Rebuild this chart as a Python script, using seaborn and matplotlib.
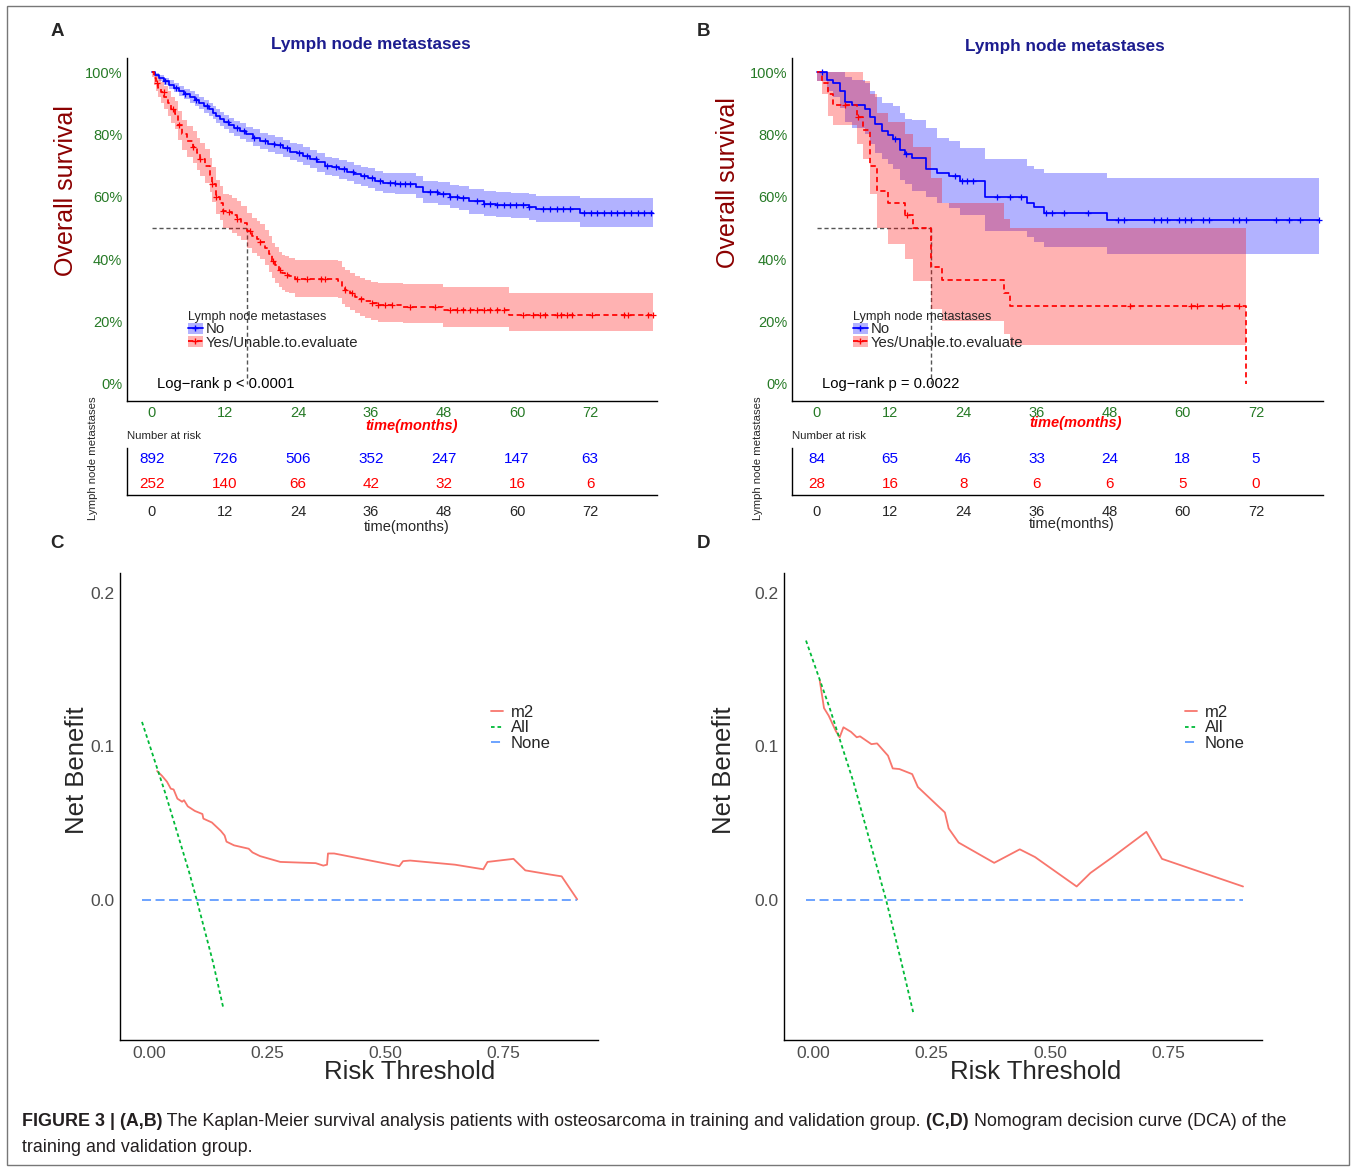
import numpy as np
import pandas as pd
import matplotlib
matplotlib.use("Agg")
import matplotlib.pyplot as plt
from matplotlib.lines import Line2D
from matplotlib.patches import Patch, Rectangle
from matplotlib.transforms import ScaledTranslation
import seaborn as sns

# ---------------- data ----------------
# panel A (training) - Kaplan-Meier, group "No"
a_no_t = [0, 0.5, 1.2, 2.0, 2.8, 3.6, 4.5, 5.3, 6.2, 7.0, 7.8, 8.6, 9.4, 10.1, 10.5, 11.2, 11.8,
          12.6, 13.5, 14.4, 15.5, 16.6, 17.8, 19.0, 20.3, 21.5, 22.7, 23.8, 24.9, 26.0, 27.2, 28.4,
          29.6, 30.8, 32.0, 33.2, 34.3, 35.5, 36.7, 38.0, 40.0, 43.4, 44.5, 47.0, 48.9, 50.5, 52.1,
          54.5, 56.5, 59.0, 62.0, 63.1, 70.3, 82.4]
a_no_s = [1.0, 0.99, 0.98, 0.97, 0.96, 0.95, 0.94, 0.93, 0.92, 0.91, 0.90, 0.89, 0.88, 0.87, 0.86, 0.85,
          0.84, 0.83, 0.82, 0.81, 0.80, 0.79, 0.78, 0.77, 0.765, 0.755, 0.745, 0.74, 0.73, 0.72, 0.71,
          0.70, 0.695, 0.688, 0.68, 0.672, 0.665, 0.66, 0.65, 0.645, 0.642, 0.63, 0.615, 0.61, 0.60,
          0.595, 0.585, 0.578, 0.574, 0.572, 0.568, 0.561, 0.548, 0.548]
a_no_hi = [1.0, 0.997, 0.99, 0.982, 0.974, 0.965, 0.956, 0.947, 0.938, 0.929, 0.92, 0.911, 0.901,
           0.892, 0.882, 0.873, 0.863, 0.854, 0.844, 0.835, 0.825, 0.816, 0.806, 0.797, 0.792, 0.782,
           0.773, 0.768, 0.758, 0.749, 0.739, 0.729, 0.725, 0.718, 0.71, 0.703, 0.696, 0.691, 0.682,
           0.677, 0.676, 0.665, 0.651, 0.646, 0.637, 0.633, 0.624, 0.617, 0.614, 0.613, 0.61, 0.604,
           0.597, 0.597]
a_no_lo = [1.0, 0.983, 0.97, 0.958, 0.946, 0.935, 0.924, 0.913, 0.902, 0.891, 0.88, 0.869, 0.859,
           0.848, 0.838, 0.827, 0.817, 0.806, 0.796, 0.785, 0.775, 0.764, 0.754, 0.743, 0.738, 0.728,
           0.717, 0.712, 0.702, 0.691, 0.681, 0.671, 0.665, 0.658, 0.65, 0.641, 0.634, 0.629, 0.618,
           0.613, 0.608, 0.595, 0.579, 0.574, 0.563, 0.557, 0.546, 0.539, 0.534, 0.531, 0.526, 0.518,
           0.503, 0.503]
a_no_cens = [2.2, 4.0, 5.5, 7.2, 9.0, 12.5, 14.0, 15.2, 16.8, 18.5, 20.0, 21.0, 22.2, 24.2, 25.5, 27.0,
             28.8, 30.2, 31.5, 33.0, 34.8, 36.2, 37.5, 39.1, 39.9, 40.7, 41.6, 42.4, 45.7, 46.8, 47.9,
             49.0, 50.1, 51.2, 53.4, 54.5, 55.6, 56.7, 57.8, 58.9, 59.9, 61.0, 62.0, 64.3, 65.4, 66.5,
             67.6, 68.7, 71.0, 72.1, 73.2, 74.3, 75.4, 76.5, 77.6, 78.7, 79.8, 80.9, 82.0]

# panel A, group "Yes/Unable.to.evaluate"
a_yes_t = [0, 0.3, 0.6, 1.0, 1.5, 2.0, 2.6, 3.2, 3.8, 4.3, 4.9, 5.8, 6.8, 7.4, 7.9, 8.7, 9.5, 9.8, 10.6,
           11.2, 11.7, 12.6, 13.1, 14.0, 14.7, 15.6, 16.4, 17.2, 17.8, 18.6, 19.2, 19.7, 20.3, 20.8,
           21.4, 21.9, 22.6, 23.5, 30.6, 31.2, 31.7, 32.6, 33.4, 34.2, 35.0, 36.0, 37.2, 41.3, 47.9,
           58.6, 82.4]
a_yes_s = [1.0, 0.98, 0.965, 0.95, 0.935, 0.92, 0.90, 0.88, 0.865, 0.83, 0.80, 0.78, 0.76, 0.74, 0.72,
           0.70, 0.67, 0.64, 0.60, 0.58, 0.555, 0.55, 0.54, 0.53, 0.515, 0.49, 0.475, 0.465, 0.455,
           0.435, 0.415, 0.395, 0.38, 0.365, 0.355, 0.35, 0.345, 0.335, 0.33, 0.31, 0.30, 0.29, 0.28,
           0.272, 0.265, 0.258, 0.253, 0.248, 0.237, 0.222, 0.222]
a_yes_hi = [1.0, 1.0, 0.99, 0.98, 0.968, 0.955, 0.938, 0.92, 0.907, 0.875, 0.847, 0.828, 0.81, 0.79,
            0.771, 0.752, 0.723, 0.694, 0.655, 0.635, 0.61, 0.605, 0.596, 0.586, 0.571, 0.547, 0.532,
            0.522, 0.513, 0.493, 0.473, 0.453, 0.438, 0.424, 0.414, 0.41, 0.405, 0.396, 0.393, 0.375,
            0.366, 0.356, 0.347, 0.34, 0.334, 0.328, 0.325, 0.32, 0.31, 0.29, 0.29]
a_yes_lo = [0.985, 0.96, 0.94, 0.92, 0.9, 0.882, 0.86, 0.836, 0.818, 0.781, 0.75, 0.728, 0.707, 0.686,
            0.665, 0.645, 0.614, 0.584, 0.545, 0.525, 0.5, 0.495, 0.485, 0.475, 0.46, 0.435, 0.42,
            0.41, 0.4, 0.38, 0.36, 0.34, 0.325, 0.31, 0.3, 0.295, 0.29, 0.28, 0.275, 0.255, 0.245,
            0.236, 0.226, 0.218, 0.211, 0.204, 0.199, 0.194, 0.183, 0.17, 0.17]
a_yes_cens = [0.8, 1.9, 3.4, 4.5, 6.8, 7.9, 9.8, 10.6, 11.7, 12.6, 14.0, 16.1, 17.8, 19.9, 21.0, 22.2,
              23.9, 25.5, 27.7, 28.5, 31.7, 32.8, 34.4, 36.1, 37.2, 38.3, 39.4, 42.4, 46.5, 49.0,
              50.1, 51.2, 52.3, 53.4, 54.5, 55.6, 56.7, 57.8, 61.0, 62.7, 63.8, 64.6, 66.5, 67.3,
              68.2, 69.0, 72.3, 77.5, 78.3, 81.6, 82.4]

# panel B (validation), group "No"
b_no_t = [0, 1.6, 2.7, 3.8, 4.6, 5.7, 7.9, 8.7, 9.5, 10.6, 11.7, 12.5, 13.6, 14.5, 15.6, 17.8, 19.7,
          21.6, 23.5, 27.6, 34.5, 35.6, 37.2, 47.5, 82.4]
b_no_s = [1.0, 0.976, 0.964, 0.94, 0.905, 0.893, 0.881, 0.857, 0.833, 0.81, 0.798, 0.786, 0.75, 0.738,
          0.725, 0.69, 0.677, 0.665, 0.652, 0.60, 0.58, 0.566, 0.549, 0.527, 0.527]
b_no_hi = [1.0, 1.0, 1.0, 1.0, 0.985, 0.975, 0.965, 0.94, 0.92, 0.90, 0.90, 0.89, 0.87, 0.85, 0.845,
           0.82, 0.79, 0.78, 0.755, 0.72, 0.70, 0.69, 0.675, 0.66, 0.66]
b_no_lo = [0.97, 0.94, 0.92, 0.885, 0.84, 0.82, 0.80, 0.77, 0.74, 0.72, 0.705, 0.69, 0.655, 0.64, 0.62,
           0.60, 0.58, 0.565, 0.54, 0.49, 0.47, 0.455, 0.44, 0.415, 0.415]
b_no_cens = [0.8, 12.8, 14.6, 22.6, 23.8, 24.6, 25.6, 29.5, 31.6, 33.5, 37.5, 38.6, 40.5, 44.4, 49.4,
             50.4, 55.3, 56.4, 57.4, 59.4, 60.4, 61.3, 63.3, 64.3, 68.3, 69.3, 70.3, 75.3, 77.4, 79.3,
             82.3]

# panel B, group "Yes/Unable.to.evaluate"
b_yes_t = [0, 0.8, 1.8, 2.7, 6.6, 7.6, 8.7, 9.8, 11.7, 14.5, 15.7, 18.7, 20.5, 30.6, 31.7, 70.3]
b_yes_s = [1.0, 0.964, 0.929, 0.893, 0.855, 0.815, 0.70, 0.62, 0.58, 0.54, 0.50, 0.375, 0.333, 0.29,
           0.25, 0.0]
b_yes_hi = [1.0, 1.0, 1.0, 1.0, 1.0, 0.97, 0.93, 0.87, 0.84, 0.80, 0.76, 0.66, 0.58, 0.53, 0.50, 0.50]
b_yes_lo = [0.97, 0.93, 0.86, 0.83, 0.77, 0.72, 0.61, 0.50, 0.45, 0.40, 0.33, 0.24, 0.20, 0.16, 0.125,
            0.125]
b_yes_cens = [4.6, 6.7, 14.7, 51.4, 61.3, 62.3, 66.4, 69.3]

# numbers at risk
risk_times = [0, 12, 24, 36, 48, 60, 72]
a_risk_no = [892, 726, 506, 352, 247, 147, 63]
a_risk_yes = [252, 140, 66, 42, 32, 16, 6]
b_risk_no = [84, 65, 46, 33, 24, 18, 5]
b_risk_yes = [28, 16, 8, 6, 6, 5, 0]

# decision curves
c_thr = [0.032, 0.042, 0.053, 0.061, 0.067, 0.075, 0.085, 0.089, 0.097, 0.112, 0.128, 0.130, 0.148,
         0.167, 0.175, 0.179, 0.195, 0.226, 0.234, 0.250, 0.293, 0.368, 0.384, 0.392, 0.394, 0.407,
         0.545, 0.553, 0.568, 0.663, 0.723, 0.732, 0.787, 0.812, 0.866, 0.889, 0.922]
c_m2 = [0.084, 0.081, 0.077, 0.0725, 0.072, 0.066, 0.064, 0.065, 0.061, 0.058, 0.056, 0.053, 0.0505,
        0.045, 0.042, 0.038, 0.0356, 0.0334, 0.031, 0.0286, 0.0248, 0.024, 0.0224, 0.023, 0.0303,
        0.0303, 0.022, 0.0253, 0.0257, 0.023, 0.020, 0.0248, 0.0268, 0.0193, 0.0165, 0.0154, 0.0004]
c_all_thr = [0.0, 0.05, 0.10, 0.116, 0.15, 0.172]
c_all = [0.116, 0.069, 0.018, 0.0, -0.040, -0.070]
c_none_thr = [0.0, 0.922]
c_none = [0.0, 0.0]

d_thr = [0.029, 0.038, 0.048, 0.063, 0.071, 0.079, 0.095, 0.107, 0.114, 0.138, 0.150, 0.173, 0.183,
         0.197, 0.224, 0.236, 0.293, 0.301, 0.322, 0.397, 0.451, 0.483, 0.571, 0.600, 0.647, 0.718,
         0.751, 0.922]
d_m2 = [0.143, 0.125, 0.120, 0.110, 0.106, 0.1125, 0.1095, 0.106, 0.1066, 0.1015, 0.102, 0.094, 0.0857,
        0.0853, 0.082, 0.0736, 0.057, 0.0466, 0.0374, 0.0242, 0.033, 0.028, 0.0088, 0.0176, 0.028,
        0.0444, 0.0268, 0.0088]
d_all_thr = [0.0, 0.05, 0.10, 0.169, 0.20, 0.226]
d_all = [0.169, 0.125, 0.077, 0.0, -0.039, -0.073]
d_none_thr = [0.0, 0.922]
d_none = [0.0, 0.0]

# ---------------- styling ----------------
sns.set_style("white")
plt.rcParams['font.family'] = ['Liberation Sans', 'DejaVu Sans']

W, H = 1357, 1168
fig = plt.figure(figsize=(W / 100, H / 100), dpi=100)

BLUE, RED = '#0000ff', '#ff0000'
GREEN_TXT = '#267a26'
NAVY = '#1c1c8f'
DARKRED = '#8b0000'
GREY_TXT = '#4d4d4d'


def fx(px):
    return px / W


def fy(py):
    return 1 - py / H


def add_axes(x0, y0, x1, y1):
    return fig.add_axes([fx(x0), fy(y1), (x1 - x0) / W, (y1 - y0) / H])


def draw_group(ax, t, s, hi, lo, cens, color, ls):
    ax.fill_between(t, lo, hi, step='post', color=color, alpha=0.3, lw=0, zorder=1)
    df = pd.DataFrame({'time': t, 'surv': s})
    sns.lineplot(data=df, x='time', y='surv', ax=ax, color=color, linewidth=1.25, linestyle=ls,
                 drawstyle='steps-post', estimator=None, sort=False, zorder=3)
    idx = np.searchsorted(t, cens, side='right') - 1
    cdf = pd.DataFrame({'time': cens, 'surv': np.asarray(s)[idx]})
    sns.scatterplot(data=cdf, x='time', y='surv', ax=ax, marker='+', color=color, s=18,
                    linewidth=0.9, zorder=4)


def median_line(ax, t, s):
    s = np.asarray(s)
    med = t[int(np.argmax(s < 0.5))]
    ax.plot([0, med], [0.5, 0.5], color='#555555', lw=1, ls=(0, (3, 2)), zorder=0.5)
    ax.plot([med, med], [0.5, 0.0], color='#555555', lw=1, ls=(0, (3, 2)), zorder=0.5)


def km_panel(box, groups, pval, legend_xy, title_xy, ylab_xy, letter_xy, letter):
    ax = add_axes(*box)
    for g in groups:
        draw_group(ax, *g)
    median_line(ax, groups[1][0], groups[1][1])
    ax.set_xlim(-4.1, 83)
    ax.set_ylim(-0.055, 1.045)
    ax.set_xticks(risk_times)
    ax.set_yticks([0, 0.2, 0.4, 0.6, 0.8, 1.0])
    ax.set_yticklabels(['0%', '20%', '40%', '60%', '80%', '100%'])
    ax.tick_params(axis='both', labelsize=10.5, labelcolor=GREEN_TXT, length=2, width=0.8,
                   pad=1.5, color='#333333')
    ax.set_xlabel('')
    ax.set_ylabel('')
    sns.despine(ax=ax)
    for sp in ('left', 'bottom'):
        ax.spines[sp].set_color('black')
        ax.spines[sp].set_linewidth(1.0)
    ax.text(0.8, 0.0, 'Log\u2212rank p ' + pval, fontsize=10.6, ha='left', va='center', color='black')
    handles = [(Patch(facecolor=BLUE, alpha=0.3, lw=0),
                Line2D([], [], color=BLUE, lw=1.3, marker='+', markersize=5)),
               (Patch(facecolor=RED, alpha=0.3, lw=0),
                Line2D([], [], color=RED, lw=1.3, ls=(0, (3, 2)), marker='+', markersize=5))]
    ax.legend(handles, ['No', 'Yes/Unable.to.evaluate'], title='Lymph node metastases',
              loc='upper left', bbox_to_anchor=(fx(legend_xy[0]), fy(legend_xy[1])),
              bbox_transform=fig.transFigure, frameon=False, fontsize=10.7,
              title_fontsize=9.2, handlelength=1.0, handleheight=0.75, handletextpad=0.2,
              labelspacing=-0.05, borderpad=0, borderaxespad=0, alignment='left')
    fig.text(fx(title_xy[0]), fy(title_xy[1]), 'Lymph node metastases', color=NAVY,
             fontsize=12.3, fontweight='bold', ha='center', va='center')
    fig.text(fx(ylab_xy[0]), fy(ylab_xy[1]), 'Overall survival', color=DARKRED, fontsize=18,
             rotation=90, ha='center', va='center')
    fig.text(fx(letter_xy[0]), fy(letter_xy[1]), letter, fontsize=13.5, fontweight='bold',
             ha='center', va='center')
    return ax


def risk_table(box, no_vals, yes_vals, tlab_xy, nar_xy, side_xy, tm_xy):
    ax = add_axes(*box)
    ax.set_xlim(-4.1, 83)
    ax.set_ylim(-0.44, 1.44)
    for t, v in zip(risk_times, no_vals):
        ax.text(t, 1, str(v), color=BLUE, fontsize=11, ha='center', va='center')
    for t, v in zip(risk_times, yes_vals):
        ax.text(t, 0, str(v), color=RED, fontsize=11, ha='center', va='center')
    ax.set_xticks(risk_times)
    ax.set_yticks([0, 1])
    ax.set_yticklabels(['', ''])
    ax.tick_params(axis='x', labelsize=10.5, length=2, pad=5, color='#333333')
    ax.tick_params(axis='y', length=10, width=2.4, pad=0)
    yt = ax.yaxis.get_major_ticks()
    yt[0].tick1line.set_color(RED)
    yt[1].tick1line.set_color(BLUE)
    sns.despine(ax=ax)
    for sp in ('left', 'bottom'):
        ax.spines[sp].set_color('black')
        ax.spines[sp].set_linewidth(1.0)
    fig.text(fx(tlab_xy[0]), fy(tlab_xy[1]), 'time(months)', color=RED, fontsize=10.5,
             fontweight='bold', fontstyle='italic', ha='center', va='center')
    fig.text(fx(nar_xy[0]), fy(nar_xy[1]), 'Number at risk', fontsize=8.2, ha='left', va='center')
    fig.text(fx(side_xy[0]), fy(side_xy[1]), 'Lymph node metastases', fontsize=8.2, rotation=90,
             ha='center', va='center')
    fig.text(fx(tm_xy[0]), fy(tm_xy[1]), 'time(months)', fontsize=10.5, ha='center', va='center')
    return ax


def dca_panel(box, thr, m2, all_thr, all_nb, none_thr, none_nb, leg_xy, ylab_xy, xlab_xy,
              letter_xy, letter, xlim):
    ax = add_axes(*box)
    sns.lineplot(x=thr, y=m2, ax=ax, color='#f8766d', linewidth=1.3, estimator=None, sort=False,
                 label='m2')
    sns.lineplot(x=all_thr, y=all_nb, ax=ax, color='#00ba38', linewidth=1.3, linestyle=(0, (2, 1.6)),
                 estimator=None, sort=False, label='All')
    sns.lineplot(x=none_thr, y=none_nb, ax=ax, color='#619cff', linewidth=1.3,
                 linestyle=(0, (5, 2.5)), estimator=None, sort=False, label='None')
    ax.set_xlim(*xlim)
    ax.set_ylim(-0.0912, 0.213)
    ax.set_xticks([0, 0.25, 0.5, 0.75])
    ax.set_xticklabels(['0.00', '0.25', '0.50', '0.75'])
    ax.set_yticks([0, 0.1, 0.2])
    ax.set_yticklabels(['0.0', '0.1', '0.2'])
    ax.tick_params(axis='both', labelsize=12.5, labelcolor=GREY_TXT, length=2, width=0.8,
                   color='#333333', pad=2)
    for lab in ax.get_xticklabels():
        lab.set_transform(lab.get_transform() + ScaledTranslation(0.07, 0, fig.dpi_scale_trans))
    ax.set_xlabel('')
    ax.set_ylabel('')
    sns.despine(ax=ax)
    for sp in ('left', 'bottom'):
        ax.spines[sp].set_color('black')
        ax.spines[sp].set_linewidth(1.0)
    handles = [Line2D([], [], color='#f8766d', lw=1.3),
               Line2D([], [], color='#00ba38', lw=1.3, ls=(0, (2, 1.6))),
               Line2D([], [], color='#619cff', lw=1.3, ls=(0, (5, 2.5)))]
    ax.legend(handles, ['m2', 'All', 'None'], loc='upper left',
              bbox_to_anchor=(fx(leg_xy[0]), fy(leg_xy[1])), bbox_transform=fig.transFigure,
              frameon=False, fontsize=12, handlelength=0.7, handletextpad=0.5, labelspacing=0.02,
              borderpad=0, borderaxespad=0)
    fig.text(fx(ylab_xy[0]), fy(ylab_xy[1]), 'Net Benefit', fontsize=18.5, rotation=90,
             ha='center', va='center')
    fig.text(fx(xlab_xy[0]), fy(xlab_xy[1]), 'Risk Threshold', fontsize=18.5, ha='center',
             va='center')
    fig.text(fx(letter_xy[0]), fy(letter_xy[1]), letter, fontsize=13.5, fontweight='bold',
             ha='center', va='center')
    return ax


# ---------------- panels ----------------
km_panel((127, 58, 657, 401),
         [(a_no_t, a_no_s, a_no_hi, a_no_lo, a_no_cens, BLUE, '-'),
          (a_yes_t, a_yes_s, a_yes_hi, a_yes_lo, a_yes_cens, RED, (0, (3, 2)))],
         '< 0.0001', (188, 311), (371, 45), (66, 191), (57, 32), 'A')
km_panel((792, 58, 1323, 401),
         [(b_no_t, b_no_s, b_no_hi, b_no_lo, b_no_cens, BLUE, '-'),
          (b_yes_t, b_yes_s, b_yes_hi, b_yes_lo, b_yes_cens, RED, (0, (3, 2)))],
         '= 0.0022', (853, 311), (1065, 47), (728, 183), (703, 32), 'B')

risk_table((127, 448, 657, 495), a_risk_no, a_risk_yes, (412, 426), (127, 436), (93, 458), (407, 527))
risk_table((792, 448, 1323, 495), b_risk_no, b_risk_yes, (1076, 423), (792, 436), (758, 458),
           (1072, 524))

dca_panel((120, 573, 598, 1040), c_thr, c_m2, c_all_thr, c_all, c_none_thr, c_none,
          (491, 705), (77, 770), (410, 1072), (57, 543), 'C', (-0.0466, 0.966))
dca_panel((784, 573, 1262, 1040), d_thr, d_m2, d_all_thr, d_all, d_none_thr, d_none,
          (1185, 705), (724, 770), (1036, 1072), (703, 543), 'D', (-0.0464, 0.962))

# ---------------- caption and frame ----------------
renderer = fig.canvas.get_renderer()


def rich_line(x_px, y_px, parts, size=12.9):
    x = fx(x_px)
    for txt, weight in parts:
        t = fig.text(x, fy(y_px), txt, fontsize=size, fontweight=weight, ha='left', va='center',
                     color='#231f20')
        x += t.get_window_extent(renderer).width / W


rich_line(22, 1122, [('FIGURE 3 | (A,B)', 'bold'),
                     (' The Kaplan-Meier survival analysis patients with osteosarcoma in training '
                      'and validation group.', 'normal'),
                     (' (C,D)', 'bold'),
                     (' Nomogram decision curve (DCA) of the', 'normal')])
rich_line(22, 1147, [('training and validation group.', 'normal')])

fig.patches.append(Rectangle((fx(7), fy(1165)), (1349 - 7) / W, (1165 - 6) / H,
                             transform=fig.transFigure, fill=False, edgecolor='#777777', lw=1))

fig.savefig('out.png', dpi=100)
